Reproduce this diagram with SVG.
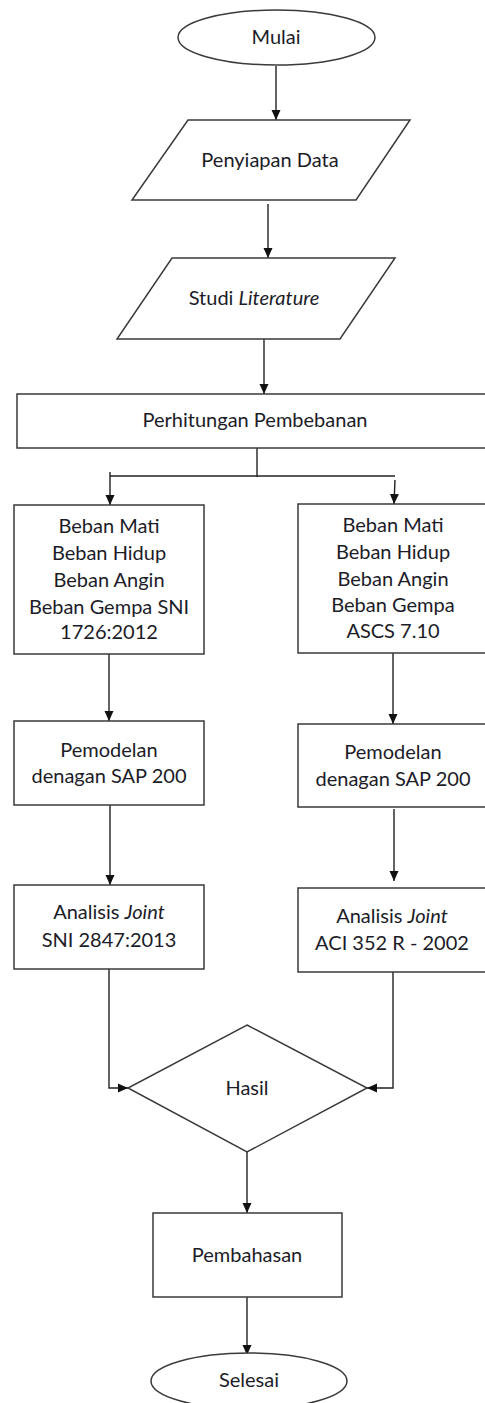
<svg xmlns="http://www.w3.org/2000/svg" width="485" height="1403" viewBox="0 0 485 1403">
<style>
.s{fill:#ffffff;stroke:#3a3a3a;stroke-width:1.5}
.c{fill:none;stroke:#222;stroke-width:1.4}
.t{font-family:Lato,"Open Sans","Liberation Sans",sans-serif;font-size:20px;fill:#1c1c28;text-anchor:middle}
.i{font-style:italic}
</style>
<defs>
<marker id="ah" markerUnits="userSpaceOnUse" markerWidth="10" markerHeight="10" refX="10" refY="5" orient="auto">
<path d="M0,0.5 L10,5 L0,9.5 z" fill="#111"/>
</marker>
</defs>
<rect width="485" height="1403" fill="#ffffff"/>
<g id="connectors">
<line class="c" x1="276" y1="66" x2="276" y2="120" marker-end="url(#ah)"/>
<line class="c" x1="268" y1="204" x2="268" y2="258" marker-end="url(#ah)"/>
<line class="c" x1="264" y1="339" x2="264" y2="394" marker-end="url(#ah)"/>
<line class="c" x1="257" y1="448" x2="257" y2="477"/>
<line class="c" x1="110" y1="476" x2="395" y2="476"/>
<line class="c" x1="110" y1="472" x2="110" y2="505" marker-end="url(#ah)"/>
<line class="c" x1="395" y1="480" x2="394" y2="504" marker-end="url(#ah)"/>
<line class="c" x1="109" y1="654" x2="109" y2="721" marker-end="url(#ah)"/>
<line class="c" x1="393" y1="653" x2="393" y2="724" marker-end="url(#ah)"/>
<line class="c" x1="110" y1="805" x2="110" y2="885" marker-end="url(#ah)"/>
<line class="c" x1="394" y1="809" x2="394" y2="881" marker-end="url(#ah)"/>
<path class="c" d="M109,969 V1088 H128" marker-end="url(#ah)"/>
<path class="c" d="M393,972 V1088 H367" marker-end="url(#ah)"/>
<line class="c" x1="247" y1="1152" x2="247" y2="1213" marker-end="url(#ah)"/>
<line class="c" x1="247" y1="1297" x2="247" y2="1355" marker-end="url(#ah)"/>
</g>
<g id="mulai">
<ellipse class="s" cx="276.5" cy="37.5" rx="98.5" ry="27.5"/>
<text class="t" x="276" y="44">Mulai</text>
</g>
<g id="penyiapan">
<polygon class="s" points="188,120 410,120 356,200 132,200"/>
<text class="t" x="270" y="167">Penyiapan Data</text>
</g>
<g id="studi">
<polygon class="s" points="172,258 395,258 340,339 117,339"/>
<text class="t" x="254" y="305">Studi <tspan class="i">Literature</tspan></text>
</g>
<g id="perhitungan">
<rect class="s" x="17" y="394" width="478" height="54"/>
<text class="t" x="255" y="427">Perhitungan Pembebanan</text>
</g>
<g id="beban-sni">
<rect class="s" x="14" y="505" width="190" height="149"/>
<text class="t" x="109" y="533">Beban Mati</text>
<text class="t" x="109" y="560">Beban Hidup</text>
<text class="t" x="109" y="587">Beban Angin</text>
<text class="t" x="109" y="614">Beban Gempa SNI</text>
<text class="t" x="109" y="639">1726:2012</text>
</g>
<g id="beban-asce">
<rect class="s" x="298" y="504" width="192" height="149"/>
<text class="t" x="393" y="532">Beban Mati</text>
<text class="t" x="393" y="559">Beban Hidup</text>
<text class="t" x="393" y="586">Beban Angin</text>
<text class="t" x="393" y="612">Beban Gempa</text>
<text class="t" x="393" y="638">ASCS 7.10</text>
</g>
<g id="pemodelan-left">
<rect class="s" x="14" y="721" width="190" height="84"/>
<text class="t" x="109" y="757">Pemodelan</text>
<text class="t" x="109" y="783">denagan SAP 200</text>
</g>
<g id="pemodelan-right">
<rect class="s" x="298" y="724" width="192" height="83"/>
<text class="t" x="393" y="759">Pemodelan</text>
<text class="t" x="393" y="786">denagan SAP 200</text>
</g>
<g id="analisis-sni">
<rect class="s" x="14" y="885" width="190" height="84"/>
<text class="t" x="109" y="919">Analisis <tspan class="i">Joint</tspan></text>
<text class="t" x="109" y="947">SNI 2847:2013</text>
</g>
<g id="analisis-aci">
<rect class="s" x="298" y="888" width="192" height="84"/>
<text class="t" x="392" y="923">Analisis <tspan class="i">Joint</tspan></text>
<text class="t" x="392" y="950">ACI 352 R - 2002</text>
</g>
<g id="hasil">
<polygon class="s" points="247,1025 367,1088 247,1152 128,1088"/>
<text class="t" x="247" y="1095">Hasil</text>
</g>
<g id="pembahasan">
<rect class="s" x="153" y="1213" width="189" height="84"/>
<text class="t" x="247" y="1262">Pembahasan</text>
</g>
<g id="selesai">
<ellipse class="s" cx="249" cy="1381" rx="98" ry="28"/>
<text class="t" x="249" y="1387">Selesai</text>
</g>
</svg>
